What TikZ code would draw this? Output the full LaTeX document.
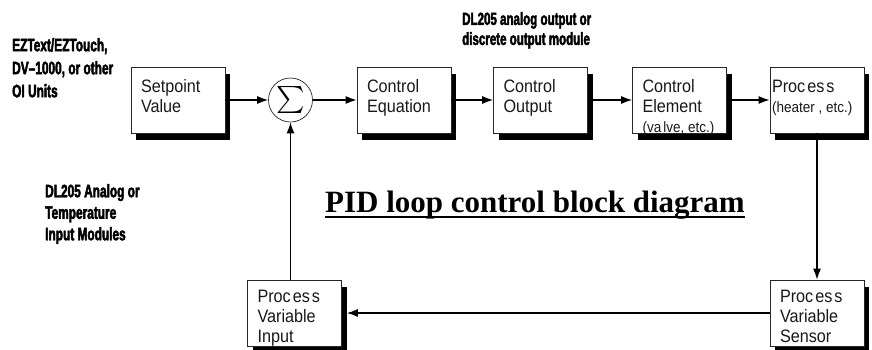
\documentclass[tikz,border=0pt]{standalone}
\usepackage{fontspec}
\setmainfont{Liberation Sans}
\newfontfamily\notefont[FakeStretch=0.66,FakeBold=2.5]{Liberation Sans Bold}
\newfontfamily\boxfont[FakeStretch=0.9]{Liberation Sans}
\newfontfamily\titlefont{Liberation Serif}
\usetikzlibrary{arrows.meta,shadows}

% text of a block: top gap, then the lines
\newcommand{\btext}[2]{\parbox[c][66pt][t]{94pt}{\leftskip=10pt\vspace*{#1}\strut #2}}
\newcommand{\paren}[1]{{\fontsize{15}{20}\selectfont #1}}

\begin{document}
\begin{tikzpicture} [
                x=1pt, y=-1pt,
                block/.style={draw=black!85,line width=0.7pt,fill=white,inner sep=0pt,
                    font=\boxfont\fontsize{18}{20}\selectfont,text=black!90,
                    drop shadow={shadow xshift=5pt,shadow yshift=-7pt,opacity=1,fill=black}},
                sum/.style={circle,draw=black!85,line width=0.7pt,fill=white,minimum size=44pt,inner sep=0pt},
                note/.style={anchor=north west,inner sep=0pt,align=left},
                title/.style={anchor=base,inner sep=0pt,font=\titlefont\bfseries\fontsize{31}{31}\selectfont},
                link/.style = {draw,line width=1.3pt,-{Latex[length=11pt,width=8pt]}},
            ]
            \useasboundingbox (0,0) rectangle (872,349);
            \foreach \pos/\name/\gap/\txt in {
            {(178,100)/sp/11pt/{Setpoint\\Value}},
            {(404,100)/ceq/11pt/{Control\\Equation}},
            {(540.5,100)/cout/11pt/{Control\\Output}},
            {(679.5,100)/cel/11pt/{Control\\Element\\\paren{(va\kern2pt lve, etc.)}}},
            {(817,100)/proc/11pt/{\leftskip=2pt Proc\kern2pt es\kern2pt s\\\paren{(heater , etc.)}}},
            {(294.5,313)/pvi/8pt/{Proc\kern2pt es\kern2pt s\\Variable\\Input}},
            {(817,313)/sens/8pt/{Proc\kern2pt es\kern2pt s\\Variable\\Sensor}}}
                \node[block] (\name) at \pos {\btext{\gap}{\txt}};
            \node[sum] (sig) at (290.5,100) {\scalebox{2.7}{$\sum$}};
            \foreach \source/ \dest in {
                    sp/sig,sig/ceq,ceq/cout,cout/cel,cel/proc,proc/sens}
                \path[link] (\source) -- (\dest);
            \path[link] (sens) -- ([xshift=5pt]pvi.east);
            \path[link] (pvi.north -| sig) -- (sig);
            % notes
            \node[note,font=\notefont\fontsize{18}{23}\selectfont] (ezt) at (12,38)
                {EZText/EZTouch,\\DV–1000, or other\\OI Units};
            \node[note,font=\notefont\fontsize{17.5}{20}\selectfont] (aout) at (462,12)
                {DL205 analog output or\\discrete output module};
            \node[note,font=\notefont\fontsize{18}{21.5}\selectfont] (ain) at (45,184)
                {DL205 Analog or\\Temperature\\Input Modules};
            \node[title] (ttl) at (535,212) {PID loop control block diagram};
            \draw[line width=1.2pt] ([yshift=-5pt]ttl.base west) -- ([yshift=-5pt]ttl.base east);
        \end{tikzpicture}
\end{document}
